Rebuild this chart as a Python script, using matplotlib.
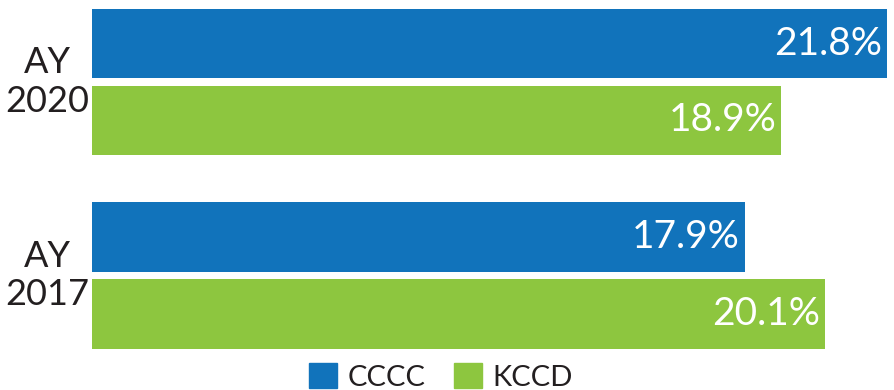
import matplotlib
matplotlib.use("Agg")
import matplotlib.pyplot as plt
from matplotlib.patches import Patch

categories = ["AY\n2020", "AY\n2017"]
series_names = ["CCCC", "KCCD"]
cccc = [21.8, 17.9]
kccd = [18.9, 20.1]
colors = ["#1173BB", "#8DC63F"]

plt.rcParams['font.family'] = ['Lato', 'DejaVu Sans']

W, H = 894, 390
fig = plt.figure(figsize=(W/100, H/100), dpi=100)
ax = fig.add_axes([92/W, 0, 795/W, 1])

pos = [0, 1]
off = 0.198
h = 0.359
for vals, sgn, col in [(cccc, -1, colors[0]), (kccd, 1, colors[1])]:
    ys = [p + sgn*off for p in pos]
    bars = ax.barh(ys, vals, height=h, color=col)
    for y, v in zip(ys, vals):
        ax.text(v - 0.13, y, f"{v:.1f}%", ha='right', va='center',
                color='white', fontsize=28)

ax.set_xlim(0, 21.8)
ax.set_ylim(1.5917, -0.4238)
ax.axis('off')

tr = ax.get_yaxis_transform()
for p, lab in zip(pos, categories):
    ax.text(-45/795, p, lab, transform=tr, ha='center', va='center',
            multialignment='center', fontsize=26, color='#231F20',
            linespacing=1.2)

handles = [Patch(color=c, label=n) for c, n in zip(colors, series_names)]
fig.legend(handles=handles, loc='center', bbox_to_anchor=(441/W, 1-377/H),
           ncol=2, frameon=False, fontsize=21, handlelength=0.95,
           handleheight=0.95, handletextpad=0.35, columnspacing=1.0,
           labelcolor='#231F20')

fig.savefig("out.png", dpi=100)
